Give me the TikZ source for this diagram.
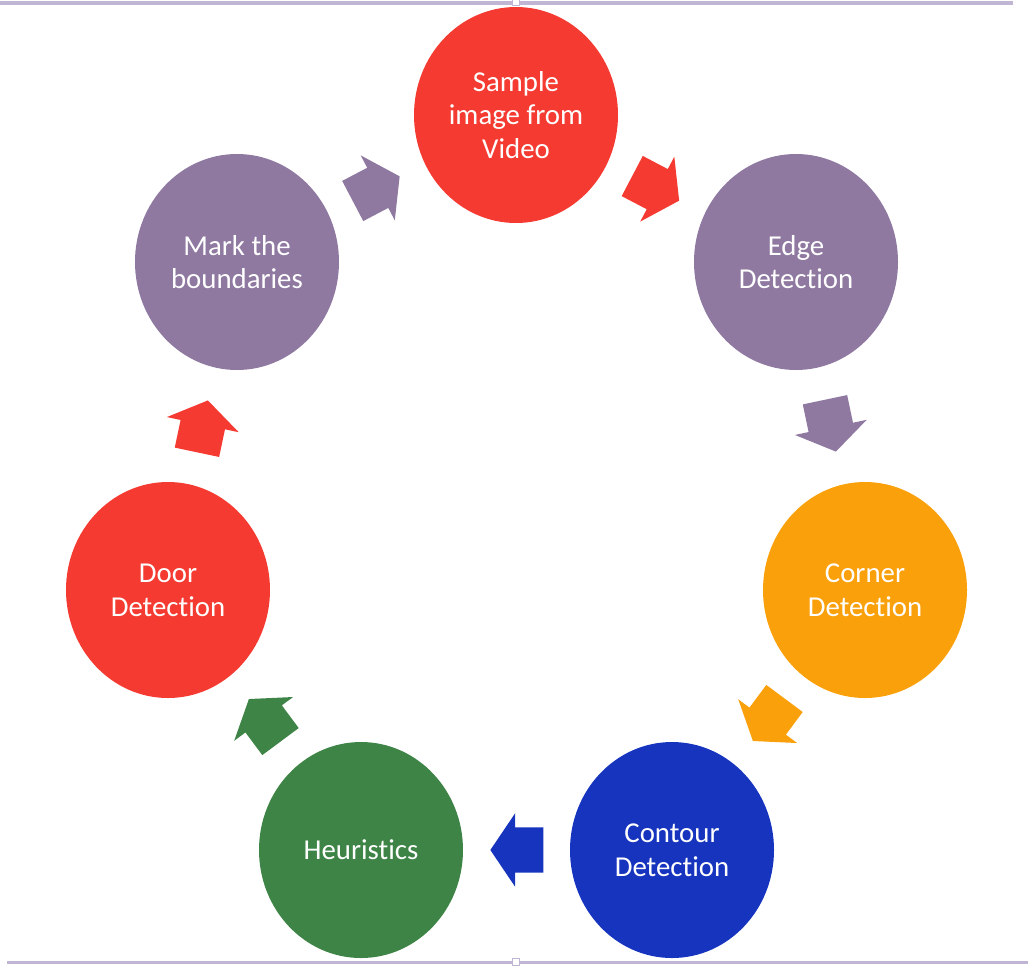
\documentclass[tikz,border=0pt]{standalone}
\usepackage{fontspec}
\setmainfont[Ligatures=NoCommon]{Carlito}
\usetikzlibrary{shapes,positioning,calc}

\definecolor{cred}{RGB}{245,58,50}
\definecolor{cpurple}{RGB}{143,121,161}
\definecolor{corange}{RGB}{250,160,10}
\definecolor{cblue}{RGB}{22,52,190}
\definecolor{cgreen}{RGB}{62,132,70}
\definecolor{cline}{RGB}{192,182,212}

\begin{document}
\begin{tikzpicture}[%
    x=0.25mm, y=0.25mm,         % One unit is one pixel of the screenshot
    node distance=20mm,         % Global setup of box spacing
    ]
% -------------------------------------------------
% Styles for the stages and the block arrows
\tikzset{
  stage/.style={ellipse, on grid, align=center, text=white, inner sep=0pt,
    minimum width=51mm, minimum height=54mm, font=\fontsize{20.5}{24}\selectfont},
  arw/.style={single arrow, draw=none, inner xsep=0pt, inner ysep=5.6mm,
    minimum height=13.25mm, single arrow head extend=3.5mm,
    single arrow tip angle=112},
  slideline/.style={draw=cline, line width=0.75mm},
  handle/.style={draw=cline, fill=white, line width=0.3mm, inner sep=0pt,
    minimum size=1.8mm}
}
\useasboundingbox (0,0) rectangle (1028,-968);
% -------------------------------------------------
% Slide edges
\draw[slideline] (0,-3) -- (1013,-3);
\draw[slideline] (7,-962) -- (1028,-962);
\node[handle] (htop) at (516,-2) {};
\node[handle] (hbot) at (516,-962) {};

% -------------------------------------------------
% Start by placing the stages
\node [stage, fill=cred] (sample) at (516,-115) {Sample\\image from\\Video};
\node [stage, fill=cpurple, below right=36.75mm and 70mm of sample] (edge) {Edge\\Detection};
\node [stage, fill=corange, below right=82mm and 17.25mm of edge] (corner) {Corner\\Detection};
\node [stage, fill=cblue, below left=65mm and 48.25mm of corner] (contour) {Contour\\Detection};
\node [stage, fill=cgreen, left=77.75mm of contour] (heur) {Heuristics};
\node [stage, fill=cred, above left=65mm and 48.25mm of heur] (door) {Door\\Detection};
\node [stage, fill=cpurple, above right=82mm and 17.25mm of door] (mark) {Mark the\\boundaries};

% Block arrows halfway between the stages (shifted back onto their middle)
\node [arw, fill=cred, rotate=-27.7, xshift=-2mm] (a1) at ($(sample)!0.5!(edge)$) {};		%Sample,Edge
\node [arw, fill=cpurple, rotate=-78.1, xshift=-2mm] (a2) at ($(edge)!0.5!(corner)$) {};		%Edge,Corner
\node [arw, fill=corange, rotate=-126.6, xshift=-2mm] (a3) at ($(corner)!0.5!(contour)$) {};	%Corner,Contour
\node [arw, fill=cblue, rotate=180, xshift=-2mm] (a4) at ($(contour)!0.5!(heur)$) {};		%Contour,Heuristics
\node [arw, fill=cgreen, rotate=126.6, xshift=-2mm] (a5) at ($(heur)!0.5!(door)$) {};		%Heuristics,Door
\node [arw, fill=cred, rotate=78.1, xshift=-2mm] (a6) at ($(door)!0.5!(mark)$) {};			%Door,Mark
\node [arw, fill=cpurple, rotate=27.7, xshift=-2mm] (a7) at ($(mark)!0.5!(sample)$) {};		%Mark,Sample

% -------------------------------------------------
\end{tikzpicture}
\end{document}
